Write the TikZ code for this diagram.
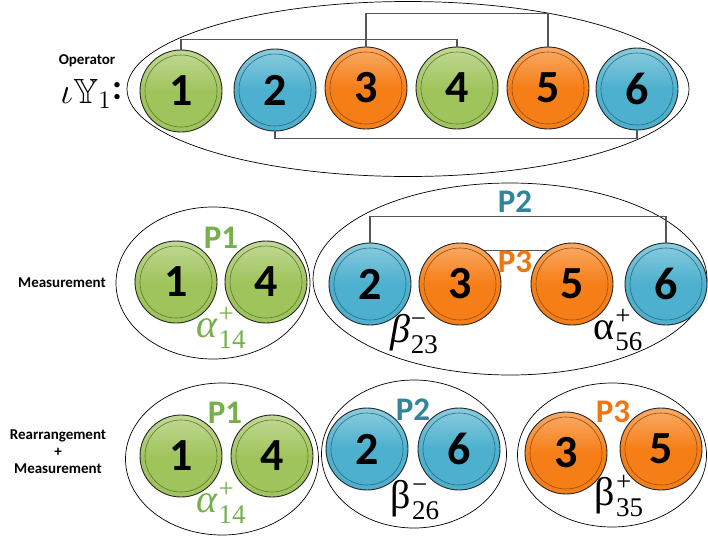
\documentclass[tikz,border=0pt]{standalone}
\usepackage{amsmath,amssymb}
\usepackage{fontspec}
\newfontfamily\cf{Carlito}
\newfontfamily\grk{Liberation Serif}
\usetikzlibrary{shapes.geometric}
\definecolor{gball}{RGB}{160,196,92}
\definecolor{bball}{RGB}{76,176,206}
\definecolor{oball}{RGB}{246,126,22}
\definecolor{gtxt}{RGB}{118,176,76}
\definecolor{btxt}{RGB}{49,133,155}
\definecolor{otxt}{RGB}{240,118,18}
\definecolor{wire}{RGB}{85,85,85}
% #1 base letter, #2 superscript, #3 subscript
\newcommand{\scr}[3]{{#1}\hspace{1pt}\rlap{\raisebox{15pt}{\fontsize{27}{27}\selectfont\upshape #2}}\raisebox{-11pt}{\fontsize{27}{27}\selectfont\upshape #3}}
\tikzset{
  ball/.style={circle, minimum size=82pt, inner sep=0pt, draw=black!85, line width=0.9pt,
    top color=#1!65!white, bottom color=#1, middle color=#1,
    font=\cf\bfseries\fontsize{46}{46}\selectfont,
    path picture={\draw[#1!60!black, line width=0.6pt] (path picture bounding box.center) circle (36pt);}},
  grp/.style={ellipse, draw=black, line width=0.7pt, inner sep=0pt},
  wirel/.style={draw=wire, line width=1.1pt},
  plab/.style={font=\cf\bfseries\fontsize{33}{33}\selectfont, inner sep=0pt},
  slab/.style={font=\cf\bfseries\fontsize{15}{17}\selectfont, align=center, inner sep=0pt},
  mlab/.style={font=\grk\fontsize{40}{40}\selectfont, inner sep=0pt}
}
\begin{document}
\begin{tikzpicture}[x=1pt,y=-1pt]
\useasboundingbox (0,0) rectangle (708,541);
% ---------- top row ----------
\node[grp, minimum width=562pt, minimum height=175pt] (te) at (408,89) {};
\node[ball=gball] (t1) at (181,91) {1};
\node[ball=bball] (t2) at (275,90) {2};
\node[ball=oball] (t3) at (366,88) {3};
\node[ball=gball] (t4) at (457,88) {4};
\node[ball=oball] (t5) at (548,88) {5};
\node[ball=bball] (t6) at (637,89) {6};
\draw[wirel] (t1.north) -- ++(0,-10) -| (t4.north);
\draw[wirel] (t3.north) -- ++(0,-33) -| (t5.north);
\draw[wirel] (t2.south) -- ++(0,7) -| (t6.south);
\node[slab] (op) at (87,61) {Operator};
\node[inner sep=0pt] (iy) at (86,94) {\scalebox{1.75}{\fontsize{20}{20}\selectfont$\iota\mathbb{Y}_1$}};
\node[inner sep=0pt, font=\cf\bfseries\fontsize{36}{36}\selectfont] (colon) at (117,91) {:};
% ---------- middle row ----------
\node[grp, minimum width=194pt, minimum height=152pt] (me1) at (213,283) {};
\node[grp, minimum width=394pt, minimum height=192pt] (me2) at (510,279) {};
\node[ball=gball] (m1) at (176,282) {1};
\node[ball=gball] (m4) at (266,282) {4};
\node[ball=bball] (m2) at (370,284) {2};
\node[ball=oball] (m3) at (460,284) {3};
\node[ball=oball] (m5) at (572,284) {5};
\node[ball=bball] (m6) at (666,284) {6};
\draw[wirel] (m2.north) -- ++(0,-26) -| (m6.north);
\draw[wirel] (m3.55) -- (m5.125);
\node[plab, text=gtxt] (p1m) at (221,238) {P1};
\node[plab, text=btxt] (p2m) at (515,202) {P2};
\node[plab, text=otxt] (p3m) at (515,262) {P3};
\node[mlab, text=gtxt, anchor=base] (a14m) at (221,337) {\scr{\itshape α}{+}{14}};
\node[mlab, anchor=base] (b23) at (414,342) {\scr{\itshape β}{−}{23}};
\node[mlab, anchor=base] (a56) at (618,339) {\scr{α}{+}{56}};
\node[slab] (meas) at (62,283) {Measurement};
% ---------- bottom row ----------
\node[grp, minimum width=193pt, minimum height=152pt] (be1) at (222,459) {};
\node[grp, minimum width=185pt, minimum height=148pt] (be2) at (414,454) {};
\node[grp, minimum width=189pt, minimum height=144pt] (be3) at (612,455) {};
\node[ball=gball] (b1) at (181,456) {1};
\node[ball=gball] (b4) at (272,456) {4};
\node[ball=bball] (b2) at (367,449) {2};
\node[ball=bball] (b6) at (459,449) {6};
\node[ball=oball] (b3) at (566,453) {3};
\node[ball=oball] (b5) at (661,449) {5};
\node[plab, text=gtxt] (p1b) at (225,413) {P1};
\node[plab, text=btxt] (p2b) at (413,410) {P2};
\node[plab, text=otxt] (p3b) at (613,412) {P3};
\node[mlab, text=gtxt, anchor=base] (a14b) at (221,512) {\scr{\itshape α}{+}{14}};
\node[mlab, anchor=base] (b26) at (415,508) {\scr{β}{−}{26}};
\node[mlab, anchor=base] (b35) at (619,505) {\scr{β}{+}{35}};
\node[slab] (ream) at (58,452) {Rearrangement\\+\\Measurement};
\end{tikzpicture}
\end{document}
